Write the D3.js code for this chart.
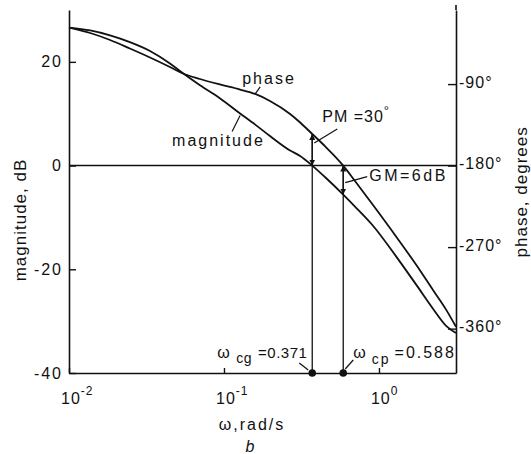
<!DOCTYPE html>
<html>
<head>
<meta charset="utf-8">
<script src="https://cdn.jsdelivr.net/npm/d3@7"></script>
<style>
  body { margin: 0; background: #fff; }
  text { font-family: "Liberation Sans", Arial, sans-serif; fill: #111; }
</style>
</head>
<body>
<svg width="531" height="454"></svg>
<script>
// frequency grid, rad/s
const freq = [0.01, 0.0137, 0.0184, 0.0247, 0.0333, 0.0448, 0.0544, 0.070, 0.094, 0.127, 0.159, 0.198, 0.267, 0.31, 0.371, 0.448, 0.588, 0.70, 0.915, 1.31, 1.76, 2.23, 2.71, 3.14];
// magnitude, dB
const magDb = [26.6, 26.05, 25.1, 23.8, 22.1, 19.7, 17.8, 15.5, 13.0, 10.05, 7.9, 5.7, 2.9, 1.85, 0, -2.2, -5.6, -7.9, -11.6, -17.8, -23.2, -27.6, -30.9, -32.3];
// phase, degrees
const phaseDeg = [-27.7, -33.6, -41.3, -50.7, -60.6, -71.1, -78.3, -84.4, -90.4, -96.0, -100.9, -108.7, -123.0, -132.4, -145.1, -158.5, -180, -197, -223.5, -259.9, -290.9, -317.4, -339, -358];

const magTicks = [20, 0, -20, -40];
const phaseTicks = [-90, -180, -270, -360];
const freqTicks = [0.01, 0.1, 1];
const freqTickExp = ["-2", "-1", "0"];

const wcg = 0.371, wcp = 0.588;

let svg = d3.select("svg");
let margin = {top: 10, right: 75, bottom: 81, left: 69};
let w = +svg.attr("width") - margin.left - margin.right;
let h = +svg.attr("height") - margin.top - margin.bottom;

let x = d3.scaleLog().domain([0.01, 3.14]).range([margin.left, margin.left + w]);
let yMag = d3.scaleLinear().domain([-40, 30]).range([margin.top + h, margin.top]);
// phase axis: -180 deg sits on the 0 dB line
let yPh = d3.scaleLinear().domain([-409, -8.2]).range([margin.top + h, margin.top]);

const ink = "#111";

// arrow marker
svg.append("defs").append("marker")
  .attr("id", "arr")
  .attr("viewBox", "0 0 10 10")
  .attr("refX", 10).attr("refY", 5)
  .attr("markerWidth", 6).attr("markerHeight", 7)
  .attr("markerUnits", "userSpaceOnUse")
  .attr("orient", "auto-start-reverse")
  .append("path").attr("d", "M0,0L10,5L0,10z").attr("fill", ink);

// left axis
let gl = svg.append("g").attr("transform", `translate(${margin.left},0)`)
  .call(d3.axisLeft(yMag).tickValues(magTicks).tickSize(-7).tickSizeOuter(0).tickPadding(6)
    .tickFormat(d => String(d)));
gl.selectAll("text").attr("font-size", 16).attr("letter-spacing", 2)
  .attr("font-family", "Liberation Sans, Arial, sans-serif").attr("fill", ink);

// right axis
let gr = svg.append("g").attr("transform", `translate(${margin.left + w},0)`)
  .call(d3.axisRight(yPh).tickValues(phaseTicks).tickSize(-8).tickSizeOuter(0).tickPadding(3)
    .tickFormat(d => `${d}°`));
gr.selectAll("text").attr("font-size", 16).attr("letter-spacing", 1)
  .attr("font-family", "Liberation Sans, Arial, sans-serif").attr("fill", ink).attr("dy", "0.2em");
// right spine runs a little higher than the left one
svg.append("line")
  .attr("x1", margin.left + w).attr("x2", margin.left + w)
  .attr("y1", margin.top - 5).attr("y2", margin.top)
  .attr("stroke", ink).attr("stroke-width", 1.6);

// bottom axis
let gb = svg.append("g").attr("transform", `translate(0,${margin.top + h})`)
  .call(d3.axisBottom(x).tickValues(freqTicks).tickSize(-5).tickSizeOuter(0).tickFormat(""));

svg.selectAll(".domain").attr("stroke", ink).attr("stroke-width", 1.6);
svg.selectAll(".tick line").attr("stroke", ink).attr("stroke-width", 1.4);

freqTicks.forEach((f, i) => {
  let t = svg.append("text").attr("x", x(f) - 8).attr("y", margin.top + h + 31)
    .attr("font-size", 16).attr("letter-spacing", 1);
  t.append("tspan").text("10");
  t.append("tspan").attr("dy", -9).attr("font-size", 12).text(freqTickExp[i]);
});

// 0 dB / -180 deg line
svg.append("line")
  .attr("x1", x(0.01)).attr("x2", x(3.14))
  .attr("y1", yMag(0)).attr("y2", yMag(0))
  .attr("stroke", ink).attr("stroke-width", 1.4);

// axis titles
svg.append("text")
  .attr("transform", `translate(26,${yMag(-10.5)}) rotate(-90)`)
  .attr("text-anchor", "middle").attr("font-size", 17).attr("letter-spacing", 1)
  .text("magnitude, dB");
svg.append("text")
  .attr("transform", `translate(527,${yPh(-209)}) rotate(-90)`)
  .attr("text-anchor", "middle").attr("font-size", 17).attr("letter-spacing", 1)
  .text("phase, degrees");

svg.append("text").attr("x", 252).attr("y", margin.top + h + 57)
  .attr("text-anchor", "middle").attr("font-size", 16).attr("letter-spacing", 2)
  .text("ω,rad/s");
svg.append("text").attr("x", 250).attr("y", margin.top + h + 79)
  .attr("text-anchor", "middle").attr("font-size", 16).attr("font-style", "italic")
  .text("b");

// curves
let magLine = d3.line().x((d, i) => x(freq[i])).y(d => yMag(d)).curve(d3.curveMonotoneX);
let phLine = d3.line().x((d, i) => x(freq[i])).y(d => yPh(d)).curve(d3.curveMonotoneX);

svg.append("path").attr("d", magLine(magDb))
  .attr("fill", "none").attr("stroke", ink).attr("stroke-width", 1.8);
svg.append("path").attr("d", phLine(phaseDeg))
  .attr("fill", "none").attr("stroke", ink).attr("stroke-width", 1.8);

// crossover verticals
let iCg = freq.indexOf(wcg), iCp = freq.indexOf(wcp);
let yBot = yMag(-40);

svg.append("line")
  .attr("x1", x(wcg)).attr("x2", x(wcg))
  .attr("y1", yBot).attr("y2", yPh(phaseDeg[iCg]))
  .attr("stroke", ink).attr("stroke-width", 1.3);
svg.append("line")
  .attr("x1", x(wcp)).attr("x2", x(wcp))
  .attr("y1", yBot).attr("y2", yMag(0))
  .attr("stroke", ink).attr("stroke-width", 1.3);

// PM and GM arrows
svg.append("line")
  .attr("x1", x(wcg)).attr("x2", x(wcg))
  .attr("y1", yMag(0)).attr("y2", yPh(phaseDeg[iCg]))
  .attr("stroke", ink).attr("stroke-width", 1.3)
  .attr("marker-start", "url(#arr)").attr("marker-end", "url(#arr)");
svg.append("line")
  .attr("x1", x(wcp)).attr("x2", x(wcp))
  .attr("y1", yMag(0)).attr("y2", yMag(magDb[iCp]))
  .attr("stroke", ink).attr("stroke-width", 1.3)
  .attr("marker-start", "url(#arr)").attr("marker-end", "url(#arr)");

svg.selectAll("circle.cross")
  .data([wcg, wcp]).enter().append("circle")
  .attr("cx", d => x(d)).attr("cy", yBot).attr("r", 3.8).attr("fill", ink);

// labels + leaders
function leader(x1, y1, x2, y2) {
  svg.append("line").attr("x1", x1).attr("y1", y1).attr("x2", x2).attr("y2", y2)
    .attr("stroke", ink).attr("stroke-width", 1.2);
}

let pPh = [x(freq[10]), yPh(phaseDeg[10])];
svg.append("text").attr("x", pPh[0] - 13).attr("y", pPh[1] - 10)
  .attr("font-size", 16).attr("letter-spacing", 2).text("phase");
leader(pPh[0] + 5, pPh[1] - 7, pPh[0], pPh[1]);

let pMg = [x(freq[9]), yMag(magDb[9])];
svg.append("text").attr("x", pMg[0] - 68).attr("y", pMg[1] + 33)
  .attr("font-size", 16).attr("letter-spacing", 2).text("magnitude");
leader(pMg[0] - 8, pMg[1] + 18, pMg[0], pMg[1] + 2);

let pPm = [x(wcg), yPh(phaseDeg[iCg])];
let pm = svg.append("text").attr("x", pPm[0] + 10).attr("y", pPm[1] - 12)
  .attr("font-size", 16).attr("letter-spacing", 1);
pm.append("tspan").text("PM =30");
pm.append("tspan").attr("dy", -7).attr("font-size", 13).text("°");
leader(pPm[0] + 25, pPm[1] - 5, pPm[0] + 2, pPm[1] + 9);

let pGm = [x(wcp), yMag(magDb[iCp])];
svg.append("text").attr("x", pGm[0] + 26).attr("y", pGm[1] - 14)
  .attr("font-size", 16).attr("letter-spacing", 2.5).text("GM=6dB");
leader(pGm[0] + 2, pGm[1] - 12, pGm[0] + 24, pGm[1] - 18);

let cg = svg.append("text").attr("x", x(wcg) - 95).attr("y", yBot - 15)
  .attr("font-size", 15).attr("letter-spacing", 0.5);
cg.append("tspan").attr("font-size", 16).text("ω");
cg.append("tspan").attr("dx", 6).attr("dy", 5).attr("font-size", 14).text("cg");
cg.append("tspan").attr("dx", 6).attr("dy", -5).text("=0.371");
leader(x(wcg) - 13, yBot - 10, x(wcg) - 4, yBot - 3);

let cp = svg.append("text").attr("x", x(wcp) + 10).attr("y", yBot - 15)
  .attr("font-size", 16).attr("letter-spacing", 2);
cp.append("tspan").text("ω");
cp.append("tspan").attr("dx", 4).attr("dy", 6).attr("font-size", 14).text("cp");
cp.append("tspan").attr("dx", 4).attr("dy", -6).text("=0.588");
leader(x(wcp) + 10, yBot - 13, x(wcp) + 2, yBot - 4);
</script>
</body>
</html>
